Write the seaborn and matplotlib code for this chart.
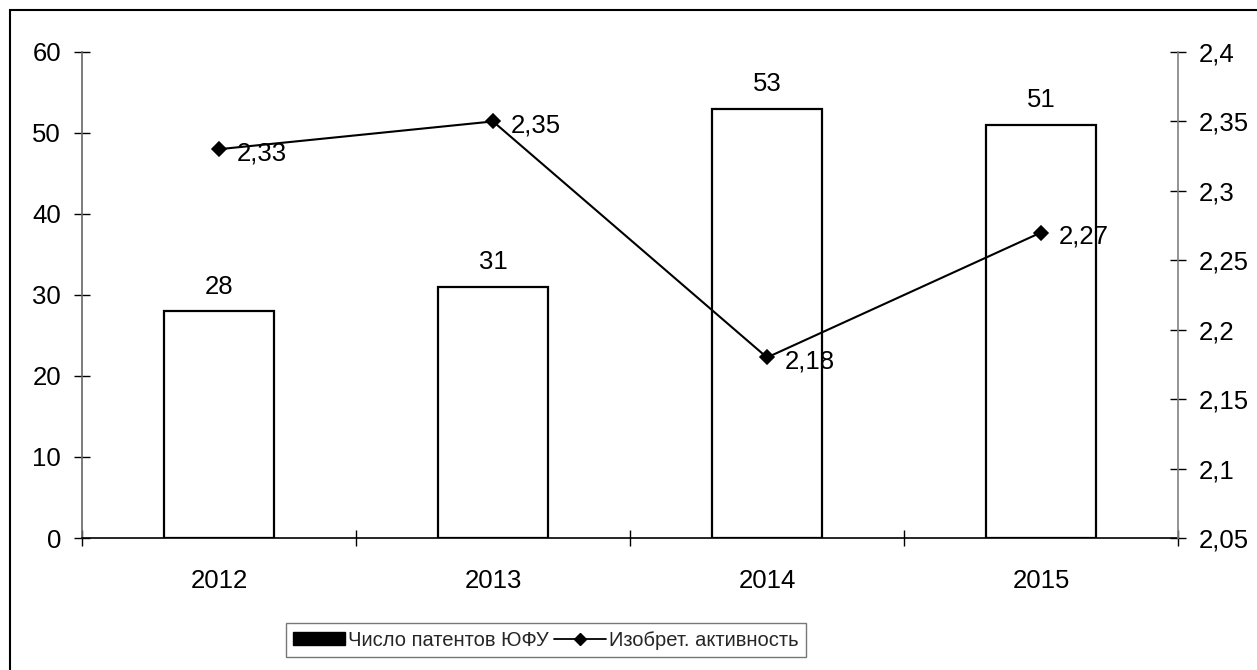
import numpy as np
import pandas as pd
import seaborn as sns
import matplotlib.pyplot as plt
from matplotlib.patches import Patch, Rectangle
from matplotlib.lines import Line2D
from matplotlib.ticker import FixedLocator, FuncFormatter

sns.set_theme(style="ticks")
plt.rcParams['font.family'] = ['Liberation Sans', 'DejaVu Sans']

years = ['2012', '2013', '2014', '2015']
patents = [28, 31, 53, 51]
activity = [2.33, 2.35, 2.18, 2.27]
left_ticks = [0, 10, 20, 30, 40, 50, 60]
right_ticks = [2.05, 2.1, 2.15, 2.2, 2.25, 2.3, 2.35, 2.4]
bar_name = 'Число патентов ЮФУ'
line_name = 'Изобрет. активность'

data = pd.DataFrame({'year': years, 'patents': patents, 'activity': activity})
fs = 18.5


def comma(v, pos=None):
    return f"{v:g}".replace('.', ',')


W, H = 1257, 670
fig = plt.figure(figsize=(W / 100, H / 100), dpi=100)
ax = fig.add_axes([82 / W, 1 - 538 / H, (1178 - 82) / W, (538 - 52) / H])

sns.barplot(data=data, x='year', y='patents', ax=ax, color='white',
            edgecolor='black', linewidth=1.6, width=0.4, saturation=1)
ax.set_xlim(-0.5, 3.5)
ax.set_ylim(0, 60)
ax.set_yticks(left_ticks)
ax.bar_label(ax.containers[0], padding=9, fontsize=fs, color='black')
ax.set(xlabel=None, ylabel=None)

ax2 = ax.twinx()
sns.pointplot(data=data, x='year', y='activity', ax=ax2, color='black',
              markers='D', markersize=7, linewidth=1.5)
ax2.set_xlim(-0.5, 3.5)
ax2.set_ylim(2.05, 2.4)
ax2.yaxis.set_major_locator(FixedLocator(right_ticks))
ax2.yaxis.set_major_formatter(FuncFormatter(comma))
ax2.set(xlabel=None, ylabel=None)
for i, v in enumerate(activity):
    ax2.annotate(comma(v), (i, v), xytext=(13, -3), textcoords='offset points',
                 ha='left', va='center', fontsize=fs, color='black')

# spines & ticks
for s in ['top', 'right']:
    ax.spines[s].set_visible(False)
for s in ['top', 'left', 'bottom']:
    ax2.spines[s].set_visible(False)
ax.spines['left'].set_color('#666666')
ax.spines['bottom'].set_color('black')
ax2.spines['right'].set_color('#808080')
for sp in [ax.spines['left'], ax.spines['bottom'], ax2.spines['right']]:
    sp.set_linewidth(1.2)

ax.tick_params(axis='y', direction='inout', length=12, width=1.0, color='black',
               labelsize=fs, pad=9, labelcolor='black')
ax2.tick_params(axis='y', direction='inout', length=12, width=1.0, color='black',
                labelsize=fs, pad=9, labelcolor='black')
ax.xaxis.set_minor_locator(FixedLocator([-0.5, 0.5, 1.5, 2.5, 3.5]))
ax.tick_params(axis='x', which='major', length=0, labelsize=fs, pad=22, labelcolor='black')
ax.tick_params(axis='x', which='minor', direction='inout', length=12, width=1.0, color='black')
ax2.tick_params(axis='x', which='both', length=0, labelbottom=False)
ax.set_zorder(1)
ax2.set_zorder(2)
ax2.patch.set_visible(False)

handles = [Patch(facecolor='black', edgecolor='black'),
           Line2D([], [], color='black', marker='D', markersize=6, linewidth=1.3)]
leg = fig.legend(handles, [bar_name, line_name], loc='center',
                 bbox_to_anchor=(546 / W, 1 - 640 / H), ncol=2, fontsize=14.5,
                 frameon=True, fancybox=False, edgecolor='#555555',
                 borderpad=0.35, columnspacing=0.25, handlelength=2.6,
                 handleheight=0.6, handletextpad=0.15, borderaxespad=0)
leg.get_frame().set_linewidth(1.0)

# outer chart border (only top/left visible in crop)
fig.patches.append(Rectangle((10 / W, -0.2), 1.5, 1.2 - 10 / H, transform=fig.transFigure,
                             fill=False, edgecolor='black', linewidth=1.5))

fig.savefig('out.png', dpi=100)
